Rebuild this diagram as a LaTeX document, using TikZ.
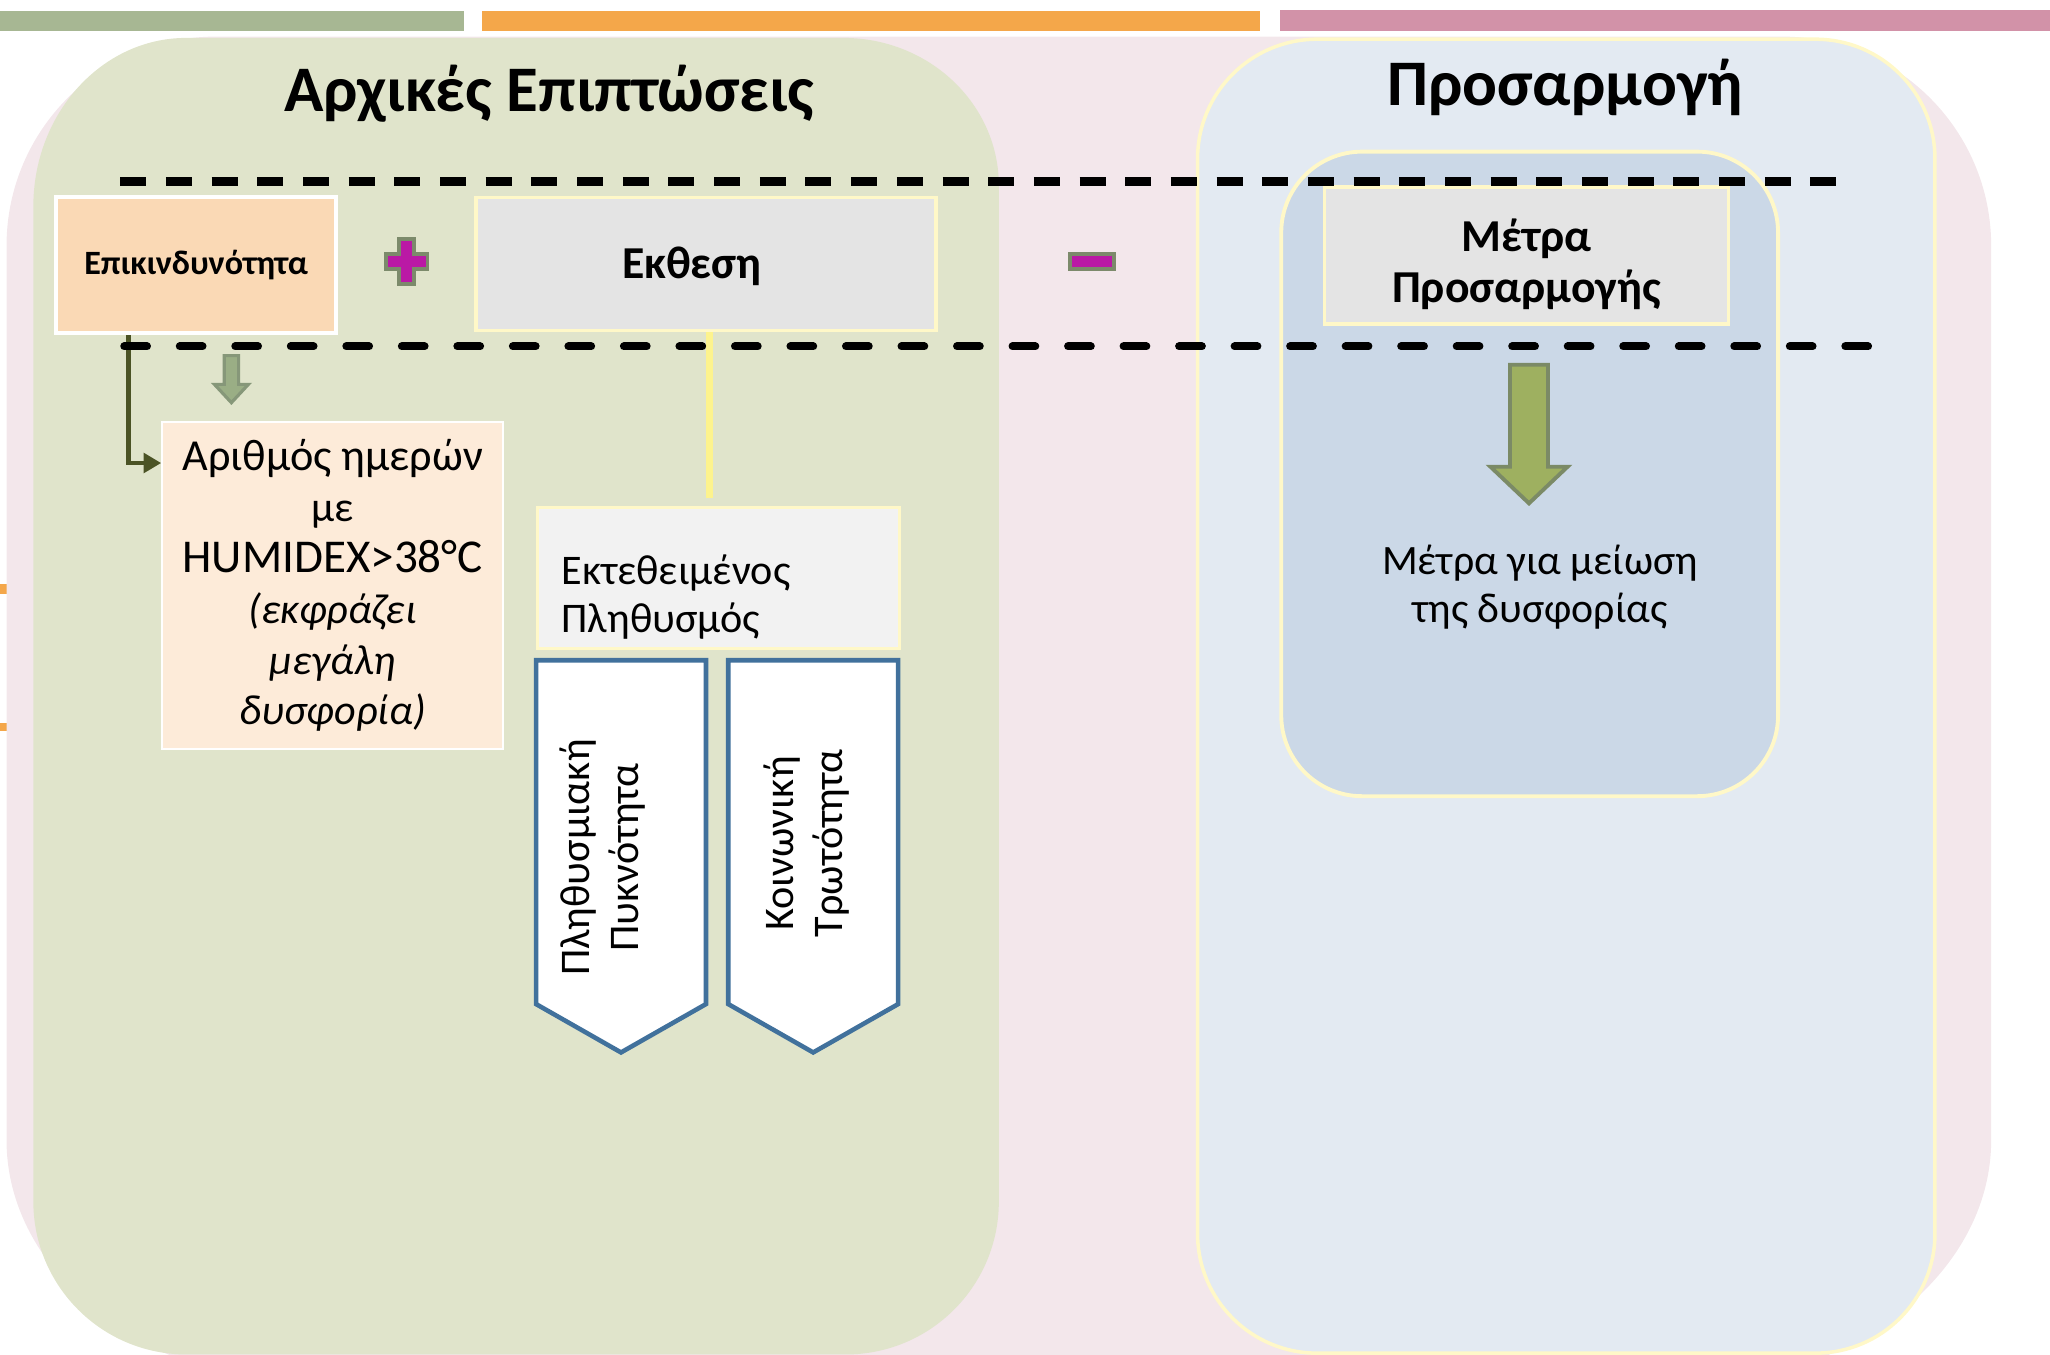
\documentclass[tikz,border=0pt]{standalone}
\usepackage{fontspec}
\setmainfont{Carlito}
\usetikzlibrary{positioning, arrows.meta, calc}
\definecolor{bargreen}{RGB}{167,183,147}
\definecolor{barorange}{RGB}{244,167,74}
\definecolor{barpink}{RGB}{210,146,168}
\definecolor{pinkbg}{RGB}{243,231,235}
\definecolor{greenbg}{RGB}{224,228,203}
\definecolor{bluebg}{RGB}{227,234,242}
\definecolor{bluein}{RGB}{203,216,231}
\definecolor{paleyellow}{RGB}{255,248,200}
\definecolor{riskfill}{RGB}{250,217,181}
\definecolor{daysfill}{RGB}{253,235,217}
\definecolor{greybox}{RGB}{228,228,228}
\definecolor{lightgrey}{RGB}{242,242,242}
\definecolor{steelblue}{RGB}{65,113,156}
\definecolor{signmagenta}{RGB}{186,25,165}
\definecolor{signrim}{RGB}{124,138,107}
\definecolor{arrowgreen}{RGB}{158,176,96}
\definecolor{arrowrim}{RGB}{123,138,102}
\definecolor{smallgreen}{RGB}{154,174,133}
\definecolor{smallrim}{RGB}{134,151,121}
\definecolor{darkolive}{RGB}{75,83,37}
\definecolor{linkyellow}{RGB}{253,243,141}

\newcommand{\fs}[2]{\fontsize{#1}{#2}\selectfont}

\begin{document}
\begin{tikzpicture}[x=0.013074cm, y=-0.013074cm,
    box/.style={rectangle, inner sep=0pt, align=center},
    sign/.style={draw=signrim, fill=signmagenta, line width=1.1pt},
    dashrow/.style={line width=2.4pt, dash pattern=on 7.4pt off 5.6pt}]
\useasboundingbox (0,0) rectangle (1568,1036);
\clip (0,0) rectangle (1568,1036);

% bars at the top
\fill[bargreen] (0,8.5) rectangle (355,23.5);
\fill[barorange] (368.5,8.5) rectangle (963.5,23.5);
\fill[barpink] (979,8) rectangle (1568,23.5);
\fill[barorange] (0,447) rectangle (6,454);
\fill[barorange] (0,553) rectangle (6,559);

% containers
\fill[pinkbg] (5,188) arc[start angle=180, end angle=270, radius=160]
    -- (1363,28) arc[start angle=270, end angle=360, radius=160]
    -- (1523,872) arc[start angle=0, end angle=90, x radius=250, y radius=190]
    -- (255,1062) arc[start angle=90, end angle=180, x radius=250, y radius=190] -- cycle;
\fill[greenbg] (25.5,158) arc[start angle=180, end angle=270, x radius=117, y radius=129]
    -- (645,29) arc[start angle=270, end angle=360, x radius=119, y radius=113]
    -- (764,919) arc[start angle=0, end angle=90, radius=117]
    -- (142.5,1036) arc[start angle=90, end angle=180, radius=117] -- cycle;
\filldraw[fill=bluebg, draw=paleyellow, line width=1pt, rounded corners=34pt]
    (916,30) rectangle (1480,1035);
\filldraw[fill=bluein, draw=paleyellow, line width=1.1pt, rounded corners=23pt]
    (980,116) rectangle (1360,609);

% titles
\node[font={\fs{18.5}{22}\bfseries}] (titleleft) at (420,72) {Αρχικές Επιπτώσεις};
\node[font={\fs{18.5}{22}\bfseries}] (titleright) at (1197,67) {Προσαρμογή};

% top row
\node[box, fill=riskfill, draw=white, line width=1.1pt, minimum width=2.80cm,
      minimum height=1.36cm, font={\fs{9.7}{12}\bfseries}] (risk) at (150,203) {Επικινδυνότητα};
\draw[sign] (305.5,183) -- (316.5,183) -- (316.5,194.5) -- (327,194.5) -- (327,205.5)
    -- (316.5,205.5) -- (316.5,217) -- (305.5,217) -- (305.5,205.5) -- (295,205.5)
    -- (295,194.5) -- (305.5,194.5) -- cycle;
\node[box, fill=greybox, draw=paleyellow, line width=1pt, minimum width=4.60cm,
      minimum height=1.33cm] (expo) at (540,202) {};
\node[font={\fs{13}{15}\bfseries}] (expotext) at ($(expo)+(-11,2)$) {Εκθεση};
\node[sign, minimum width=0.44cm, minimum height=0.15cm, inner sep=0pt] (minus) at (835.5,200) {};
\node[box, fill=greybox, draw=paleyellow, line width=1pt, minimum width=4.04cm,
      minimum height=1.37cm] (adapt) at (1167.5,195.5) {};
\node[align=center, font={\fs{13}{14.5}\bfseries}] (adapttext) at ($(adapt)+(0,7)$) {Μέτρα\\Προσαρμογής};

% lower part
\node[box, fill=daysfill, draw=white, line width=0.6pt, minimum width=3.41cm,
      minimum height=3.27cm, font={\fs{12}{14.45}}] (days) at (254.5,448)
      {{\fs{12.6}{14.45}Αριθμός ημερών}\\με\\{\fs{13.4}{14.45}HUMIDEX>38°C}\\\textit{(εκφράζει}\\\textit{μεγάλη}\\\textit{δυσφορία)}};
\node[box, fill=lightgrey, draw=paleyellow, line width=0.8pt, minimum width=3.62cm,
      minimum height=1.41cm] (pop) at (549.5,442) {};
\node[anchor=west, align=left, inner sep=0pt, font={\fs{12}{13.7}}] (poptext)
      at ($(pop.west)+(19,15)$) {Εκτεθειμένος\\Πληθυσμός};

\foreach \px in {410,557}
  \draw[steelblue, fill=white, line width=1.3pt] (\px,505) -- (\px+130,505) -- (\px+130,768)
      -- (\px+65,805) -- (\px,768) -- cycle;
\node[rotate=90, align=center, font={\fs{12}{14}}] (density) at (461,656) {Πληθυσμιακή\\Πυκνότητα};
\node[rotate=90, align=center, font={\fs{12}{14}}] (vulner) at (617,645) {Κοινωνική\\Τρωτότητα};

% arrows
\draw[fill=smallgreen, draw=smallrim, line width=0.9pt] (171.5,272) -- (182.5,272) -- (182.5,294)
    -- (190,294) -- (177,308) -- (164,294) -- (171.5,294) -- cycle;
\draw[fill=arrowgreen, draw=arrowrim, line width=1.1pt] (1155,279) -- (1184,279) -- (1184,357)
    -- (1199,357) -- (1169.5,385) -- (1140,357) -- (1155,357) -- cycle;
\node[align=center, font={\fs{11.9}{13.7}}] (measures) at (1178,449) {Μέτρα για μείωση\\της δυσφορίας};

\draw[darkolive, line width=1.4pt, -{Triangle[length=5pt, width=5.5pt]}]
    ($(risk.south west)+(57,0)$) |- ($(days.north west)+(0,32)$);
\draw[linkyellow, line width=2pt] ($(expo.south)+(3,0)$) -- ($(pop.north)+(-6.5,-6)$);

% dashed bands
\draw[dashrow] (92,139) -- (1405,139);
\draw[dashrow, line width=2.25pt, line cap=round, dash pattern=on 6.5pt off 9.3pt] (95,265) -- (1445,265);
\end{tikzpicture}
\end{document}
